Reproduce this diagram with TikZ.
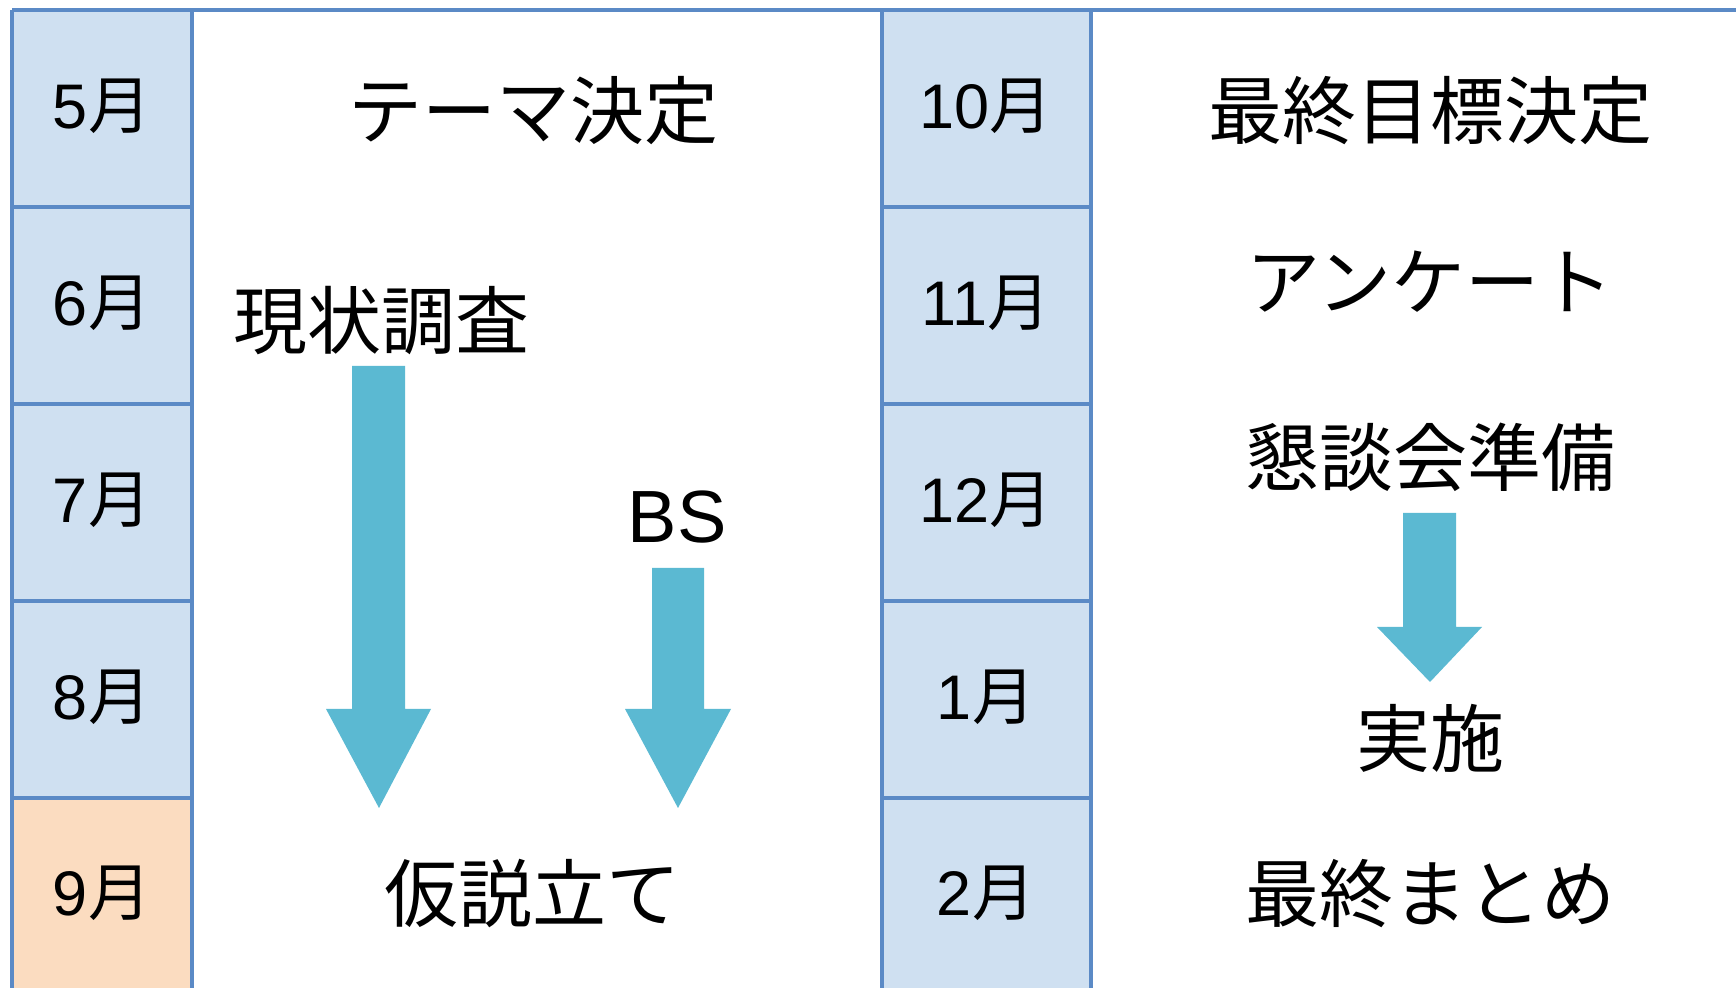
\documentclass[tikz,border=0pt]{standalone}
\usepackage{fontspec}
\setmainfont{Liberation Sans}
\newfontfamily\cjk{Noto Sans CJK JP}
\definecolor{cellblue}{RGB}{207,224,241}
\definecolor{cellorange}{RGB}{251,220,192}
\definecolor{gridline}{RGB}{91,138,198}
\definecolor{arrowcol}{RGB}{91,185,210}
\begin{document}
\begin{tikzpicture}[x=0.5pt,y=-0.5pt,
  month/.style={inner sep=0pt, font=\fontsize{31.5}{34}\selectfont},
  item/.style={inner sep=0pt, font=\fontsize{37}{40}\selectfont\cjk},
  grid/.style={draw=gridline, line width=1.6pt},
  blockarrow/.style={fill=arrowcol, draw=none}]
\useasboundingbox (0,0) rectangle (1736,988);
% cell fills
\fill[cellblue] (12,10) rectangle (192,798);
\fill[cellorange] (12,798) rectangle (192,988);
\fill[cellblue] (882,10) rectangle (1091,988);
% grid lines
\draw[grid] (12,10) -- (1736,10);
\foreach \x in {12,192,882,1091} \draw[grid] (\x,10) -- (\x,988);
\foreach \y in {207,404,601,798} {
  \draw[grid] (12,\y) -- (192,\y);
  \draw[grid] (882,\y) -- (1091,\y);
}
% month labels
\node[month] (m5) at (102,106) {5{\cjk 月}};
\node[month] (m6) at (102,303) {6{\cjk 月}};
\node[month] (m7) at (102,500) {7{\cjk 月}};
\node[month] (m8) at (102,697) {8{\cjk 月}};
\node[month] (m9) at (102,893) {9{\cjk 月}};
\node[month] (m10) at (986,106) {10{\cjk 月}};
\node[month] (m11) at (986,303) {11{\cjk 月}};
\node[month] (m12) at (986,500) {12{\cjk 月}};
\node[month] (m1) at (986,697) {1{\cjk 月}};
\node[month] (m2) at (986,893) {2{\cjk 月}};
% items
\node[item] (theme) at (533,111) {テーマ決定};
\node[item] (survey) at (381,321) {現状調査};
\node[inner sep=0pt, font=\fontsize{37}{40}\selectfont] (bs) at (677,517) {BS};
\node[item] (hypo) at (532,894) {仮説立て};
\node[item] (goal) at (1430,111) {最終目標決定};
\node[item] (enq) at (1430,282) {アンケート};
\node[item] (prep) at (1430,457) {懇談会準備};
\node[item] (impl) at (1430,738) {実施};
\node[item] (final) at (1430,894) {最終まとめ};
% block arrows
\fill[blockarrow] (352,366) -- (405,366) -- (405,709) -- (431,709) -- (379,808) -- (326,709) -- (352,709) -- cycle;
\fill[blockarrow] (652,568) -- (704,568) -- (704,709) -- (731,709) -- (678,808) -- (625,709) -- (652,709) -- cycle;
\fill[blockarrow] (1403,513) -- (1456,513) -- (1456,627) -- (1482,627) -- (1430,682) -- (1377,627) -- (1403,627) -- cycle;
\end{tikzpicture}
\end{document}
